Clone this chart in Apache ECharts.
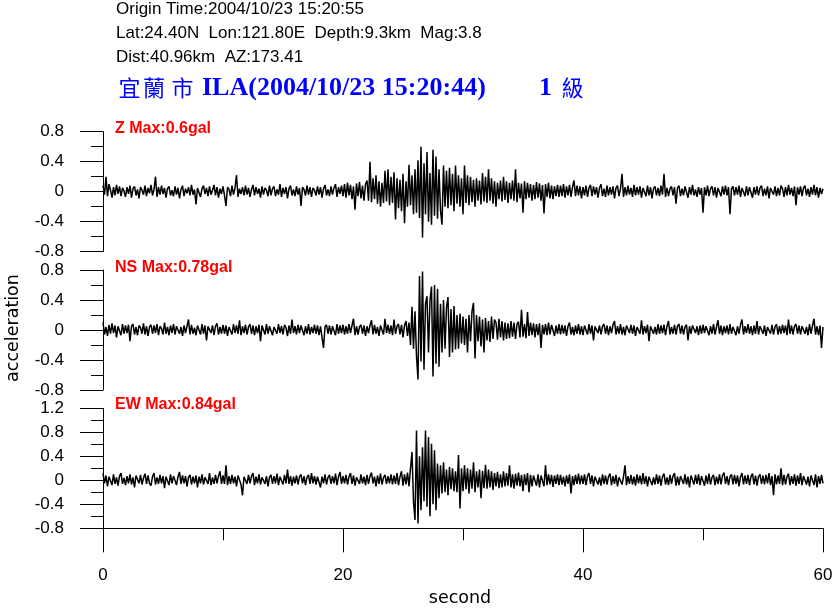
<!DOCTYPE html>
<html><head><meta charset="utf-8">
<script src="https://cdn.jsdelivr.net/npm/echarts@6/dist/echarts.min.js"></script>
<style>html,body{margin:0;padding:0;background:#fff}#c{width:835px;height:609px}</style>
</head><body><div id="c"></div>
<script>
// sample interval in seconds (time axis 0..60 s)
const sampleInterval = 0.125;

// Z component acceleration (gal)
const zTrace = [
.08,-.04,.2,-.06,.1,.02,-.08,.06,-.05,.09,-.03,.07,-.06,.05,.01,-.07,
.06,-.03,.08,-.08,.04,.07,-.05,.03,-.09,.06,.02,-.04,.08,-.06,.05,-.02,
.09,-.05,.03,.2,-.07,.06,-.04,.08,-.03,.05,-.08,.04,.07,-.05,.02,-.06,
.07,-.04,.05,-.09,.03,.08,-.06,.04,-.02,.06,-.05,.09,-.04,.03,-.17,.05,
.06,-.07,.04,.08,-.03,.05,-.06,.07,-.04,.02,.09,-.05,.06,-.08,.04,-.03,
.07,-.05,-.19,.06,.03,-.06,.08,-.04,.05,.22,-.07,.04,-.03,.06,-.05,.08,
-.04,.05,-.07,.03,.09,-.05,.06,-.03,.04,-.08,.07,-.04,.05,.02,-.06,.08,
-.05,.04,.07,-.06,.03,-.04,.1,-.07,.05,-.03,.06,-.09,.04,.08,-.05,.03,
-.06,.07,-.04,.05,-.19,.06,.03,-.05,.08,-.04,.06,-.07,.05,.02,-.05,.07,
-.04,.06,-.08,.04,.09,-.05,.03,-.06,.07,-.04,.05,.1,-.07,.06,-.03,.08,
-.06,.1,-.08,.12,-.05,.09,-.1,.07,-.24,.11,-.06,.13,-.09,.08,-.12,.1,
.15,-.12,.4,-.14,.18,-.1,.22,-.16,.14,-.2,.12,-.15,.28,-.13,.3,-.18,
.2,-.15,.26,-.37,.18,-.22,.16,-.26,.24,-.42,.14,-.2,.36,-.18,.22,-.3,
.3,-.28,.42,-.35,.6,-.61,.38,-.3,.53,-.4,.25,-.44,.56,-.32,.47,-.36,
.3,-.25,-.44,.35,-.2,.28,-.22,.32,-.18,.24,-.26,.35,-.16,.22,-.2,.18,
-.3,.35,-.15,.22,-.18,.2,-.14,.16,-.2,.18,-.12,.15,-.17,.25,-.13,.2,
-.15,.3,-.12,.18,-.16,.14,-.2,.12,-.1,.15,-.13,.2,-.11,.14,-.15,.12,
-.1,.15,-.12,.3,-.14,.12,-.09,.11,-.28,.14,-.1,.12,-.08,.1,-.12,.09,
-.1,.13,-.08,.11,-.12,.09,-.29,.1,-.07,.12,-.09,.08,-.1,.07,-.06,.09,
-.07,.08,-.06,.1,-.08,.07,-.05,.09,-.07,.06,.15,-.06,.08,-.05,.07,-.09,
.06,-.05,.08,-.07,.05,.09,-.06,.07,-.04,.06,-.08,.05,.1,-.06,.04,-.07,
.08,-.05,.06,-.04,.07,-.09,.05,.08,-.06,.04,.24,-.07,.06,-.05,.08,-.04,
.05,-.07,.09,-.05,.06,-.04,.07,-.08,.05,.03,-.06,.08,-.05,.06,-.09,.04,
.07,-.05,.05,-.06,.08,-.04,.24,-.07,.05,-.06,.04,.07,-.05,.06,-.16,.05,
.08,-.06,.04,-.05,.07,.05,-.08,.06,-.04,.09,-.05,.03,-.07,.06,-.04,.05,
-.28,.06,-.05,.08,-.06,.04,.07,-.05,.06,-.08,.05,.03,-.06,.07,-.04,.08,
-.05,.06,-.3,.04,.07,-.05,.06,-.04,.08,-.07,.05,.04,-.06,.07,-.05,.06,
.04,-.08,.06,-.04,.07,-.05,.05,.08,-.06,.04,-.05,.07,-.09,.05,.06,-.04,
.07,-.06,.05,-.05,.08,.04,-.07,.06,-.05,.09,-.04,.05,-.06,.07,-.18,.06,
-.04,.07,-.06,.05,.08,-.05,.04,-.07,.06,-.04,.09,-.05,.06,-.08,.05,-.03,
.04
];

// NS component acceleration (gal)
const nsTrace = [
.1,-.06,.04,-.08,.07,-.05,.09,-.04,.06,-.1,.05,.03,-.07,.08,-.05,.06,
-.04,.07,-.15,.05,.08,-.06,.04,-.07,.06,.03,-.05,.09,-.06,.05,-.08,.04,
.07,-.05,.06,-.04,.08,-.07,.05,.02,-.06,.1,-.05,.04,-.07,.06,-.04,.08,
-.06,.05,.07,-.05,.04,-.08,.06,-.04,.05,.14,-.06,.07,-.05,.03,-.07,.06,
.04,-.06,.08,-.05,.06,-.14,.05,.07,-.04,.06,-.07,.05,.09,-.06,.04,-.05,
.07,-.05,.06,-.08,.04,.05,-.06,.08,-.04,.06,-.05,.13,-.07,.05,-.04,.07,
-.06,.04,.08,-.05,.06,-.07,.05,-.04,.07,-.15,.06,.04,-.06,.08,-.05,.05,
.06,-.07,.04,.06,-.05,.08,-.04,.05,-.06,.07,.03,-.08,.06,-.05,.14,-.04,
.05,-.06,.07,-.04,.06,.04,-.07,.05,-.05,.08,-.06,.04,-.04,.07,-.05,.06,
-.07,.05,.06,-.24,.04,.07,-.05,.06,-.06,.05,.04,-.07,.08,-.05,.06,-.04,
.07,-.06,.05,-.05,.08,-.04,.06,.15,-.07,.05,-.06,.04,.07,-.05,.06,-.08,
.05,-.04,.06,.13,-.06,.07,-.05,.04,-.08,.06,.05,-.06,.15,-.04,.07,-.05,
.06,-.07,.14,-.05,.05,.08,-.06,.07,-.1,.06,.12,-.08,.1,-.2,.31,-.25,
.25,-.35,-.66,.72,-.42,.78,-.53,.35,.45,-.3,.4,.58,-.62,.6,-.45,.55,
-.49,.35,-.3,.4,-.25,.3,.44,-.36,.28,-.3,.32,-.26,.2,-.25,.22,-.18,
.18,-.2,.15,-.3,.2,-.15,.25,.36,-.38,.2,-.15,.18,-.22,.14,-.3,.16,
-.14,.12,-.16,.18,-.12,.14,.1,-.13,.15,-.1,.12,-.14,.1,-.12,.09,-.11,
.12,-.09,.1,-.12,.08,.11,-.1,.27,-.09,.08,-.11,.24,-.08,.1,-.07,.09,
-.1,.08,-.07,.09,-.24,.07,-.06,.08,-.07,.1,-.06,.07,.05,-.08,.06,-.05,
.08,-.06,.07,-.05,.06,-.08,.05,.1,-.06,.04,-.07,.06,-.05,.08,-.06,.05,
-.07,.06,.04,-.06,.08,-.05,.06,-.14,.05,.07,-.04,.06,-.06,.05,.08,-.05,
.06,-.07,.05,-.04,.07,.12,-.06,.05,-.05,.08,-.06,.04,-.07,.06,.05,-.04,
.07,-.05,.06,-.08,.04,.06,-.05,.13,-.06,.05,-.04,.07,-.15,.05,.06,-.05,
.04,-.06,.08,-.05,.06,-.04,.07,-.07,.05,.12,-.06,.04,-.05,.07,-.06,.05,
.08,-.05,.06,-.06,.04,.07,-.14,.05,-.05,.06,.08,-.04,.05,-.07,.06,-.05,
.07,-.04,.05,.06,-.07,.05,-.05,.08,-.06,.04,.13,-.05,.06,-.07,.05,-.04,
.06,-.06,.08,-.05,.04,.06,-.07,.05,-.05,.07,.14,-.06,.05,-.04,.08,-.05,
.05,-.07,.06,-.05,.12,-.06,.05,.07,-.05,.06,-.08,.04,.06,-.05,.07,-.06,
.04,.08,-.06,.05,-.05,.07,-.04,.06,-.07,.14,-.05,.06,-.06,.05,.08,-.05,
.06,-.06,.05,.07,-.05,.04,-.07,.08,-.05,.06,.15,-.06,.05,-.07,.06,-.24,
.04
];

// EW component acceleration (gal)
const ewTrace = [
.12,-.05,.08,-.1,.06,.04,-.08,.1,-.06,.05,-.09,.07,.12,-.06,.04,-.08,
.07,-.05,.1,-.07,.05,-.12,.08,.06,-.05,.09,-.07,.04,.11,-.06,.08,-.05,
-.09,.06,.12,-.07,.05,-.06,.09,-.05,.07,-.13,.06,.04,-.08,.1,-.05,.07,
.05,-.08,.06,.14,-.06,.08,-.05,.07,-.1,.05,.09,-.07,.06,-.05,.08,-.12,
.06,-.05,.1,-.07,.05,.08,-.06,.12,-.08,.05,-.06,.09,-.05,.07,.15,-.06,
.08,-.06,.25,-.08,.07,-.06,.09,-.05,.06,-.1,.08,.05,-.07,-.25,.06,.08,
-.06,.09,-.05,.07,.12,-.08,.06,-.05,.1,-.07,.05,.08,-.06,.07,-.1,.05,
.09,-.06,.07,-.05,.11,-.08,.06,.05,-.07,.09,-.05,.18,-.06,.07,-.09,.06,
-.05,.08,-.07,.06,.1,-.05,.07,-.08,.05,.09,-.06,.12,-.05,.07,-.07,.06,
.08,-.12,.06,-.05,.1,-.07,.05,.09,-.06,.07,-.05,.11,-.08,.06,.14,-.06,
.07,-.05,.09,-.07,.06,.12,-.06,.08,-.09,.05,.07,-.06,.1,-.05,.06,-.08,
.09,-.06,.07,.13,-.05,.06,-.1,.08,-.06,.11,-.07,.05,.09,-.06,.07,-.05,
.1,-.07,.08,-.06,.12,-.08,.06,.15,-.09,.1,-.07,.13,-.1,.2,.47,-.36,
-.66,.83,-.72,.4,-.5,.55,-.35,.83,-.44,.72,-.6,.61,-.4,.5,-.5,.28,
-.3,.25,-.22,.3,-.2,.18,-.25,.22,-.15,.2,-.18,.15,-.2,.42,-.47,.2,
-.18,.25,-.15,.2,-.22,.18,-.14,.3,-.2,.15,-.12,.18,-.3,.16,-.13,.26,
-.14,.18,-.12,.15,-.16,.12,-.1,.14,-.13,.1,-.12,.15,-.1,.12,-.09,.25,
-.12,.1,-.14,.11,-.09,.13,-.1,.09,-.18,.1,-.08,.12,-.2,.09,-.1,.08,
.11,-.09,.1,-.12,.08,.09,-.1,.25,-.08,.1,-.07,.09,-.11,.08,-.06,.1,
-.08,.09,-.07,.06,-.1,.08,-.06,.1,-.22,.07,-.08,.09,-.06,.11,-.07,.08,
-.06,.1,-.08,.07,.12,-.06,.08,-.1,.06,.09,-.07,.05,-.09,.1,-.06,.08,
-.07,.06,.11,-.08,.07,-.06,.09,-.1,.05,.08,-.07,.06,.25,-.08,.07,-.06,
.09,-.07,.06,-.09,.1,-.05,.08,-.07,.12,-.06,.07,-.1,.06,.09,-.08,.05,
-.07,.1,-.06,.08,-.09,.06,.11,-.07,.05,-.08,.09,-.06,.07,.12,-.09,.06,
-.08,.07,.09,-.06,.1,-.07,.06,-.12,.08,.05,-.07,.09,-.06,.1,-.08,.07,
.06,-.09,.08,-.06,.11,-.07,.05,.09,-.08,.06,-.06,.1,-.07,.08,.13,-.06,
.07,-.08,.06,.1,-.07,.09,-.06,.08,-.1,.06,.12,-.07,.08,-.06,.09,-.08,
.06,.11,-.07,.08,-.09,.06,.1,-.06,.08,-.07,.09,-.05,.12,-.08,.07,-.25,
.1,-.07,.08,-.06,.2,-.08,.09,-.07,.06,.11,-.08,.07,-.06,.1,-.09,.08,
-.06,.12,-.08,.07,.09,-.07,.06,-.1,.08,.06,-.08,.1,-.12,.07,-.06,.09,
-.05
];

const componentLabels = ['Z Max:0.6gal', 'NS Max:0.78gal', 'EW Max:0.84gal'];
const yRanges = [[-0.8, 0.8], [-0.8, 0.8], [-0.8, 1.2]];
const headerLines = [
  'Origin Time:2004/10/23 15:20:55',
  'Lat:24.40N  Lon:121.80E  Depth:9.3km  Mag:3.8',
  'Dist:40.96km  AZ:173.41'
];
const stationName = ['宜', '蘭', '市'];
const stationCode = 'ILA(2004/10/23 15:20:44)';
const intensity = ['1', '級'];

const traces = [zTrace, nsTrace, ewTrace];
const gridTops = [131.7, 270, 408.3];
const SANS = '"Liberation Sans", Arial, sans-serif';

const grids = gridTops.map(t => ({left: 103, top: t, width: 720, height: 120}));

const xAxes = gridTops.map((t, i) => {
  const last = i === 2;
  return {
    type: 'value', gridIndex: i, min: 0, max: 60, interval: 20, show: last,
    position: 'bottom',
    axisLine: {show: true, onZero: false, lineStyle: {color: '#000', width: 1}},
    axisTick: {show: true, length: 24, lineStyle: {color: '#000', width: 1}},
    minorTick: {show: true, splitNumber: 2, length: 12, lineStyle: {color: '#000', width: 1}},
    splitLine: {show: false}, minorSplitLine: {show: false},
    axisLabel: {show: true, color: '#000', fontFamily: SANS, fontSize: 17, margin: 47,
      verticalAlign: 'middle', showMinLabel: true, showMaxLabel: true}
  };
});

const yAxes = yRanges.map((r, i) => ({
  type: 'value', gridIndex: i, min: r[0], max: r[1], interval: 0.4,
  axisLine: {show: true, onZero: false, lineStyle: {color: '#000', width: 1}},
  axisTick: {show: true, length: 23, lineStyle: {color: '#000', width: 1}},
  minorTick: {show: true, splitNumber: 2, length: 12, lineStyle: {color: '#000', width: 1}},
  splitLine: {show: false}, minorSplitLine: {show: false},
  axisLabel: {color: '#000', fontFamily: SANS, fontSize: 17, margin: 39,
    showMinLabel: true, showMaxLabel: true,
    formatter: v => String(Math.round(v * 10) / 10)}
}));

const series = traces.map((tr, i) => ({
  type: 'line', xAxisIndex: i, yAxisIndex: i,
  data: tr.map((v, k) => [k * sampleInterval, v]),
  showSymbol: false, symbol: 'none', silent: true,
  lineStyle: {color: '#000', width: 1.5}
}));

function txt(text, x, y, font, fill, align, rotation) {
  return {type: 'text', x: x, y: y, rotation: rotation || 0, silent: true,
    style: {text: text, font: font, fill: fill, align: align || 'left', verticalAlign: 'middle',
      textAlign: align || 'left', textVerticalAlign: 'middle'}};
}

const graphics = [];
const headerY = [9.5, 33, 57];
headerLines.forEach((s, i) => graphics.push(txt(s, 116, headerY[i], '17px ' + SANS, '#000')));
const cjkX = [129.5, 154, 182.5];
const BLUE = '#0000ff';
const CJK = '22px "Noto Sans CJK TC"';
stationName.forEach((c, i) => graphics.push(txt(c, cjkX[i], 88, CJK, BLUE, 'center')));
graphics.push(txt(stationCode, 202, 88, 'bold 26px "Liberation Serif", "Times New Roman", serif', BLUE));
graphics.push(txt(intensity[0], 539, 88, 'bold 26px "Liberation Serif", "Times New Roman", serif', BLUE));
graphics.push(txt(intensity[1], 572.5, 88, CJK, BLUE, 'center'));
const labelY = [129, 267.3, 405];
componentLabels.forEach((s, i) => graphics.push(txt(s, 115, labelY[i], 'bold 16px ' + SANS, '#ff0000')));
graphics.push(txt('acceleration', 13, 328, '17.5px "DejaVu Sans", sans-serif', '#000', 'center', Math.PI / 2));
graphics.push(txt('second', 460, 598, '17.5px "DejaVu Sans", sans-serif', '#000', 'center'));

const chart = echarts.init(document.getElementById('c'), null, {renderer: 'canvas'});
chart.setOption({
  animation: false,
  backgroundColor: '#fff',
  grid: grids.map(g => Object.assign({outerBoundsMode: 'none', containLabel: false}, g)),
  xAxis: xAxes,
  yAxis: yAxes,
  series: series,
  graphic: {elements: graphics}
});
</script>
</body></html>
